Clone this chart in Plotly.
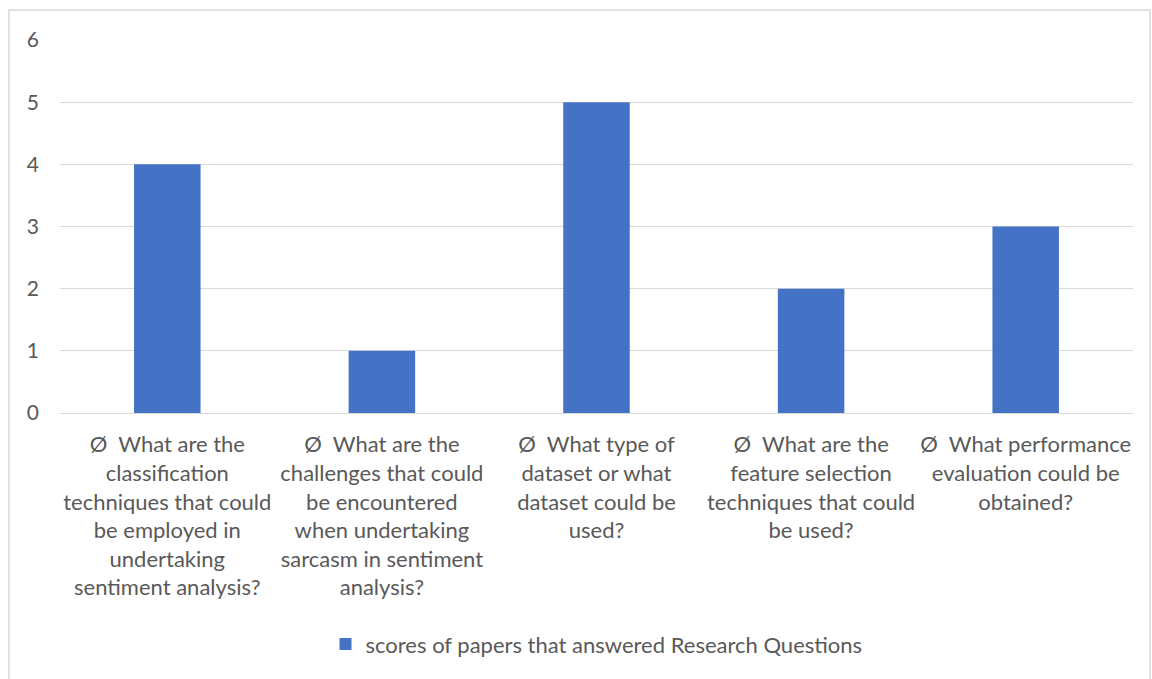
import plotly.graph_objects as go

categories = [
    "Ø  What are the<br>classification<br>techniques that could<br>be employed in<br>undertaking<br>sentiment analysis?",
    "Ø  What are the<br>challenges that could<br>be encountered<br>when undertaking<br>sarcasm in sentiment<br>analysis?",
    "Ø  What type of<br>dataset or what<br>dataset could be<br>used?",
    "Ø  What are the<br>feature selection<br>techniques that could<br>be used?",
    "Ø  What performance<br>evaluation could be<br>obtained?",
]
scores = [4, 1, 5, 2, 3]
series_name = "scores of papers that answered Research Questions"
y_ticks = [0, 1, 2, 3, 4, 5, 6]

FONT = "Lato"
GRAY = "#595959"

fig = go.Figure()
fig.add_trace(go.Bar(
    x=list(range(len(categories))),
    y=scores,
    name=series_name,
    marker=dict(color="#4472C4", line=dict(width=0)),
    showlegend=True,
))

W, H = 1152, 679
ml, mr, mt, mb = 60, 19, 40, 266

fig.update_layout(
    width=W, height=H,
    margin=dict(l=ml, r=mr, t=mt, b=mb),
    paper_bgcolor="white",
    plot_bgcolor="white",
    bargap=0.69,
    font=dict(family=FONT, color=GRAY),
    showlegend=True,
    legend=dict(
        orientation="h",
        x=0.5, xanchor="center",
        y=-0.62, yanchor="middle",
        font=dict(size=22, color=GRAY, family=FONT),
    ),
    xaxis=dict(
        tickmode="array",
        tickvals=list(range(len(categories))),
        ticktext=categories,
        range=[-0.5, len(categories) - 0.5],
        showgrid=False,
        showline=True,
        linecolor="#D9D9D9",
        linewidth=1,
        ticks="",
        ticklabelstandoff=12,
        tickfont=dict(size=22, color=GRAY, family=FONT),
        fixedrange=True,
    ),
    yaxis=dict(
        range=[0, 6],
        tickvals=y_ticks,
        showgrid=True,
        gridcolor="#D9D9D9",
        gridwidth=1,
        zeroline=False,
        showline=False,
        ticks="",
        ticklabelstandoff=20,
        tickfont=dict(size=21, color=GRAY, family=FONT),
        fixedrange=True,
    ),
)

# chart-area border
x0 = (9 - ml) / (W - ml - mr)
x1 = (1150 - ml) / (W - ml - mr)
y1 = (H - mb - 10) / (H - mt - mb)
y0 = (H - mb - 690) / (H - mt - mb)
fig.add_shape(type="rect", xref="paper", yref="paper",
              x0=x0, x1=x1, y0=y0, y1=y1,
              line=dict(color="#D9D9D9", width=1.5), fillcolor="rgba(0,0,0,0)",
              layer="below")

fig.write_html("out.html")
